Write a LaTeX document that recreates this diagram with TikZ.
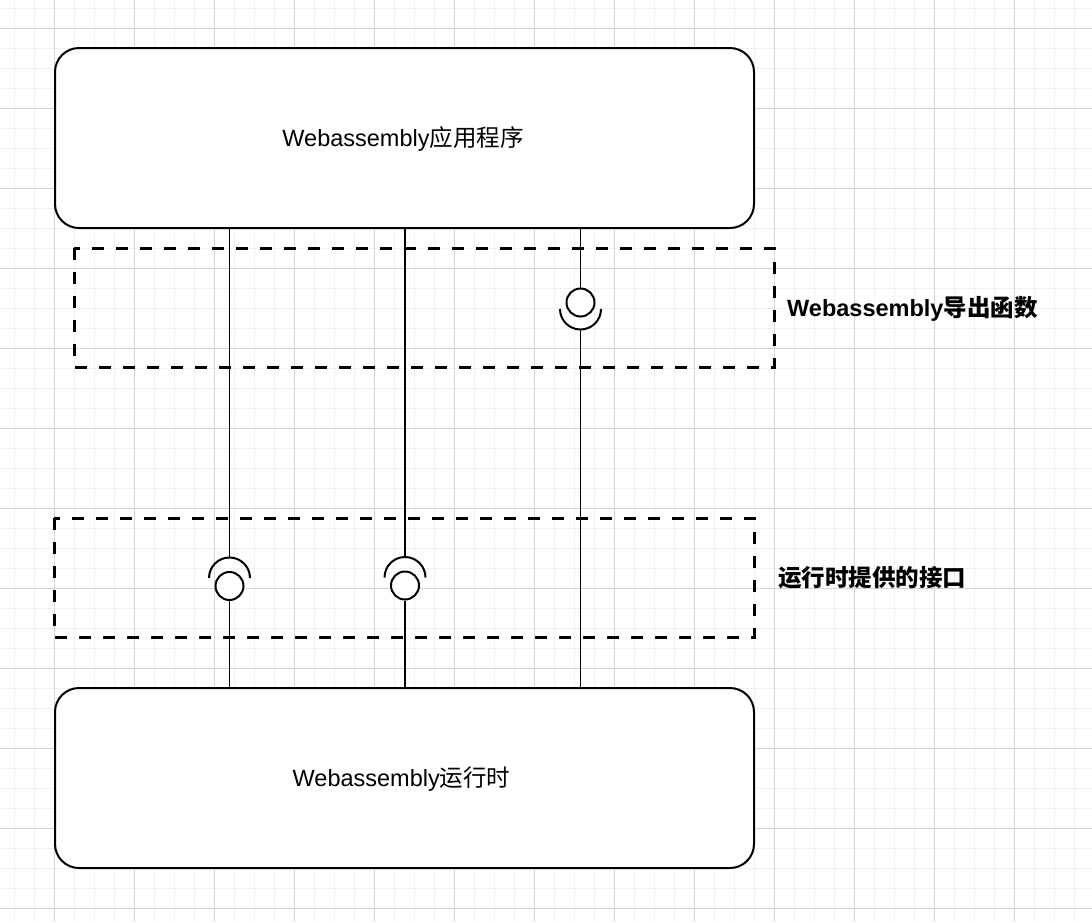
\documentclass[tikz,border=0pt]{standalone}
\usepackage{fontspec}
\setmainfont{Liberation Sans}
\newfontfamily\cjk{Noto Sans CJK SC}
\definecolor{gridminor}{HTML}{F1F1F1}
\definecolor{gridmajor}{HTML}{D4D4D4}
\tikzset{
  mainbox/.style={draw=black, line width=2pt, fill=white, rounded corners=24pt,
    minimum width=699pt, minimum height=180pt, inner sep=0pt,
    font=\fontsize{23.5pt}{28pt}\selectfont},
  dashbox/.style={draw=black, line width=3pt, dash pattern=on 12pt off 12pt},
  wire/.style={draw=black, line width=1.8pt},
  ball/.style={circle, draw=black, line width=2pt, fill=white, minimum size=28pt, inner sep=0pt},
  sock/.style={draw=black, line width=2pt},
  lbl/.style={anchor=west, inner sep=0pt, font=\fontsize{23.5pt}{28pt}\selectfont\bfseries}
}
\begin{document}
\begin{tikzpicture}[x=1pt,y=-1pt]
\useasboundingbox (0,0) rectangle (1092,922);
\fill[white] (0,0) rectangle (1092,922);
% grid
\foreach \x in {14,34,...,1074} \draw[gridminor, line width=1pt] (\x,0) -- (\x,922);
\foreach \y in {8,28,...,908} \draw[gridminor, line width=1pt] (0,\y) -- (1092,\y);
\foreach \x in {54,134,...,1014} \draw[gridmajor, line width=1pt] (\x,0) -- (\x,922);
\foreach \y in {28,108,...,908} \draw[gridmajor, line width=1pt] (0,\y) -- (1092,\y);

% dashed boxes
\draw[dashbox] (74,248) rectangle (774,367);
\draw[dashbox] (54,518) rectangle (754,637);

% main boxes
\node[mainbox] (app) at (404.5,138) {};
\node[mainbox] (rt) at (404.5,778) {};
\node at (403,139) {\fontsize{23.5pt}{28pt}\selectfont Webassembly{\cjk 应用程序}};
\node at (401.5,779) {\fontsize{23.5pt}{28pt}\selectfont Webassembly{\cjk 运行时}};

% lollipops
\node[ball] (b1) at (229.5,586) {};
\node[ball] (b2) at (405,585.5) {};
\node[ball] (b3) at (580.5,302.5) {};
\coordinate (s1) at (229.5,558);
\coordinate (s2) at (405,557.5);
\coordinate (s3) at (580.5,329.5);
\draw[sock] (209,578) arc[start angle=180, end angle=360, radius=20.5];
\draw[sock] (384.5,577.5) arc[start angle=180, end angle=360, radius=20.5];
\draw[sock] (560,309) arc[start angle=180, end angle=0, radius=20.5];

% wires
\draw[wire] (s1 |- app.south) -- (s1);
\draw[wire] (b1.south) -- (b1 |- rt.north);
\draw[wire] (s2 |- app.south) -- (s2);
\draw[wire] (b2.south) -- (b2 |- rt.north);
\draw[wire] (b3 |- app.south) -- (b3.north);
\draw[wire] (s3) -- (s3 |- rt.north);

% labels
\node[lbl] (l1) at (787,309) {Webassembly{\cjk\bfseries 导出函数}};
\node[lbl] (l2) at (778,578) {{\cjk\bfseries 运行时提供的接口}};
\end{tikzpicture}
\end{document}
